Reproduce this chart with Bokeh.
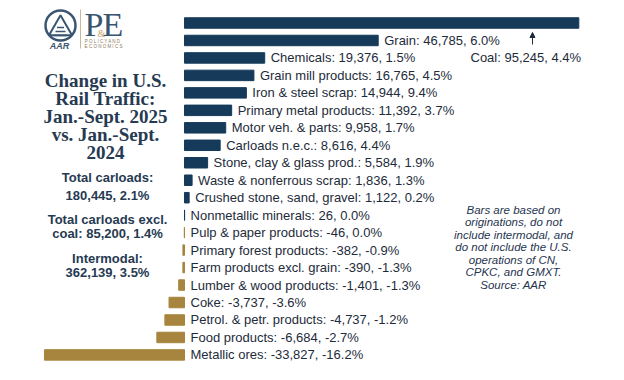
from bokeh.plotting import figure
from bokeh.models import Range1d, Arrow, NormalHead, ColumnDataSource
from bokeh.core.properties import value
from bokeh.embed import file_html
from bokeh.resources import INLINE

# ---------------- data ----------------
categories = ["Coal", "Grain", "Chemicals", "Grain mill products", "Iron & steel scrap",
              "Primary metal products", "Motor veh. & parts", "Carloads n.e.c.",
              "Stone, clay & glass prod.", "Waste & nonferrous scrap",
              "Crushed stone, sand, gravel", "Nonmetallic minerals", "Pulp & paper products",
              "Primary forest products", "Farm products excl. grain", "Lumber & wood products",
              "Coke", "Petrol. & petr. products", "Food products", "Metallic ores"]
carloads = [95245, 46785, 19376, 16765, 14944, 11392, 9958, 8616, 5584, 1836, 1122, 26,
            -46, -382, -390, -1401, -3737, -4737, -6684, -33827]
pct_change = [4.4, 6.0, 1.5, 4.5, 9.4, 3.7, 1.7, 4.4, 1.9, 1.3, 0.2, 0.0,
              0.0, -0.9, -1.3, -1.3, -3.6, -1.2, -2.7, -16.2]

title_lines = ["Change in U.S.", "Rail Traffic:", "Jan.-Sept. 2025", "vs. Jan.-Sept.", "2024"]
summary_lines = ["Total carloads:", "180,445, 2.1%", "Total carloads excl.", "coal: 85,200, 1.4%",
                 "Intermodal:", "362,139, 3.5%"]
note_lines = ["Bars are based on", "originations, do not", "include intermodal, and",
              "do not include the U.S.", "operations of CN,", "CPKC, and GMXT.", "Source: AAR"]

NAVY = "#163a5a"
TAN = "#a7853f"
TEXT = "#1d2b3a"
DARK = "#263a52"
LOGO = "#3a5570"

# layout helpers (reference pixel -> data coordinates)
X0, SX = 184.0, 0.00414
Y0, SY = 22.5, 17.47
def dx(xr):
    return (xr - X0) / SX
def dy(yr):
    return (yr - Y0) / SY

W, H = 608, 364
p = figure(width=W, height=H, output_backend="svg", toolbar_location=None,
           x_range=Range1d(dx(0), dx(W)), y_range=Range1d(dy(H), dy(0)),
           min_border=0, outline_line_color=None)
p.xaxis.visible = False
p.yaxis.visible = False
p.grid.visible = False
p.background_fill_color = "white"

idx = list(range(len(categories)))
colors = [NAVY if v >= 0 else TAN for v in carloads]
src = ColumnDataSource(dict(y=idx, right=carloads, color=colors))
p.hbar(y="y", left=0, right="right", height=0.6, fill_color="color",
       line_color="color", line_width=1, source=src)

# bar labels (coal label is placed separately)
labels = [f"{c}: {v:,}, {pc:.1f}%" for c, v, pc in zip(categories, carloads, pct_change)]
lab_src = ColumnDataSource(dict(
    x=[max(v, 0) for v in carloads[1:]], y=idx[1:], t=labels[1:]))
p.text(x="x", y="y", text="t", source=lab_src, x_offset=6, text_baseline="middle",
       text_align="left", text_font=value("Liberation Sans"), text_font_size="13px",
       text_color=TEXT)

coal_row = categories.index("Chemicals")
p.text(x=[dx(470)], y=[coal_row], text=[labels[0]], text_baseline="middle",
       text_align="left", text_font=value("Liberation Sans"), text_font_size="13px",
       text_color=TEXT)
p.add_layout(Arrow(end=NormalHead(size=5, fill_color=TEXT, line_color=TEXT),
                   x_start=dx(532), y_start=dy(44), x_end=dx(532), y_end=dy(32),
                   line_color=TEXT, line_width=1))

# left panel title
title_y = [80, 98, 116, 134, 152]
p.text(x=[dx(105)] * 5, y=[dy(v) for v in title_y], text=title_lines,
       text_baseline="middle", text_align="center", text_font=value("Liberation Serif"),
       text_font_style="bold", text_font_size="19px", text_color=DARK)

summary_y = [177, 195, 219, 233, 258, 272]
p.text(x=[dx(107)] * 6, y=[dy(v) for v in summary_y], text=summary_lines,
       text_baseline="middle", text_align="center", text_font=value("Liberation Sans"),
       text_font_style="bold", text_font_size="13px", text_color=DARK)

note_y = [209, 221.5, 234, 246.5, 259, 271.5, 284]
p.text(x=[dx(513)] * 7, y=[dy(v) for v in note_y], text=note_lines,
       text_baseline="middle", text_align="center", text_font=value("Liberation Sans"),
       text_font_style="italic", text_font_size="11.5px", text_color="#1f3550")

# logo
p.scatter(x=[dx(60)], y=[dy(25)], marker="circle", size=30, fill_color=None,
          line_color=LOGO, line_width=2.5)
p.scatter(x=[dx(60)], y=[dy(28)], marker="triangle", size=23, fill_color=None,
          line_color=LOGO, line_width=2)
p.segment(x0=[dx(56.5), dx(55), dx(53.5)], y0=[dy(27), dy(31), dy(35)],
          x1=[dx(63.5), dx(65), dx(66.5)], y1=[dy(27), dy(31), dy(35)],
          line_color=LOGO, line_width=1.5)
p.text(x=[dx(59)], y=[dy(45)], text=["AAR"], text_baseline="middle", text_align="center",
       text_font=value("Liberation Sans"), text_font_style="bold italic",
       text_font_size="9px", text_color=LOGO)
p.segment(x0=[dx(80)], y0=[dy(9)], x1=[dx(80)], y1=[dy(48)], line_color="#c9b99a", line_width=1)
p.text(x=[dx(84)], y=[dy(24)], text=["P"], text_baseline="middle", text_align="left",
       text_font=value("Liberation Serif"), text_font_size="34px", text_color=LOGO)
p.text(x=[dx(102)], y=[dy(24)], text=["E"], text_baseline="middle", text_align="left",
       text_font=value("Liberation Serif"), text_font_size="34px", text_color=LOGO)
p.text(x=[dx(101)], y=[dy(33)], text=["&"], text_baseline="middle", text_align="center",
       text_font=value("Liberation Serif"), text_font_size="10px", text_color="#c2a46c")
p.text(x=[dx(103)] * 2, y=[dy(41), dy(46)], text=["P O L I C Y  A N D", "E C O N O M I C S"],
       text_baseline="middle", text_align="center", text_font=value("Liberation Sans"),
       text_font_size="4.5px", text_color="#8a7a5a")

open("out.html", "w").write(file_html(p, INLINE))
